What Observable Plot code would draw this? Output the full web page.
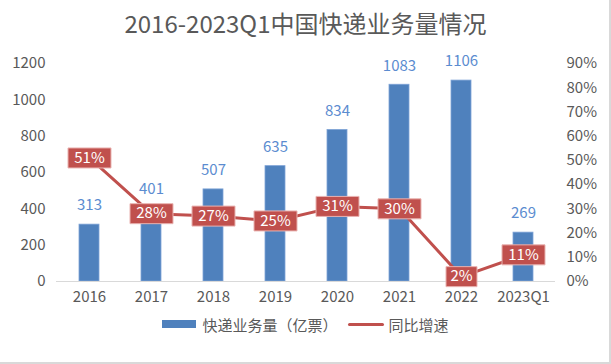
<!DOCTYPE html>
<html><head><meta charset="utf-8">
<script src="https://cdn.jsdelivr.net/npm/d3@7"></script>
<script src="https://cdn.jsdelivr.net/npm/@observablehq/plot@0.6"></script>
<style>
body{margin:0;background:#fff;}
#wrap{position:relative;width:611px;height:364px;box-sizing:border-box;border-right:2px solid #d9d9d9;border-bottom:2px solid #d9d9d9;font-family:"Noto Sans CJK SC","Open Sans",sans-serif;overflow:hidden;background:#fff}
#title{position:absolute;left:0;top:0;width:611px;height:45px;line-height:45px;text-align:center;font-size:24px;color:#595959}
#chart{position:absolute;left:0;top:45px;width:611px;height:270px}
#chart svg{position:absolute;left:0;top:0;background:transparent}
#legend{position:absolute;top:314px;left:0;width:611px;height:20px;display:flex;justify-content:center;align-items:center;font-size:15px;color:#595959}
.sw{display:inline-block;width:34px;height:8px;background:#4f81bd;margin-right:6px}
.ln{display:inline-block;width:36px;height:3px;background:#c0504d;margin:0 5px 0 10px;border-radius:2px}
</style></head>
<body>
<div id="wrap">
  <div id="title">2016-2023Q1中国快递业务量情况</div>
  <div id="chart"></div>
  <div id="legend"><span class="sw"></span><span>快递业务量（亿票）</span><span class="ln"></span><span>同比增速</span></div>
</div>
<script>
const cats = ["2016","2017","2018","2019","2020","2021","2022","2023Q1"];
const volume = [313,401,507,635,834,1083,1106,269];
const growth = [0.51,0.28,0.27,0.25,0.31,0.30,0.02,0.11];
const leftTicks = [0,200,400,600,800,1000,1200];
const rightTicks = [0,0.1,0.2,0.3,0.4,0.5,0.6,0.7,0.8,0.9];

const data = cats.map((c,i)=>({cat:c, v:volume[i], g:growth[i]}));
const pct = d3.format(".0%");

const common = {
  width:611, height:270, marginTop:18, marginBottom:34, marginLeft:56, marginRight:56,
  style:{fontSize:"15px", color:"#595959", fontFamily:'"Noto Sans CJK SC","Open Sans",sans-serif', background:"transparent", overflow:"visible"}
};
const xOpts = {type:"band", domain:cats, paddingInner:0.68, paddingOuter:0.34};

const barPlot = Plot.plot({
  ...common,
  x:{...xOpts, axis:null},
  y:{domain:[0,1200], axis:null},
  marks:[
    Plot.barY(data,{x:"cat", y:"v", fill:"#4f81bd", stroke:"#7ea3d6", strokeWidth:0.8}),
    Plot.ruleY([0],{stroke:"#d9d9d9", strokeWidth:1}),
    Plot.text(data,{x:"cat", y:"v", text:d=>String(d.v), dy:-19, fill:"#5b8cd0", fontSize:15}),
    Plot.axisY({ticks:leftTicks, tickFormat:d=>String(d), tickSize:0, tickPadding:11, label:null, fill:"#595959"}),
    Plot.axisX({tickSize:0, tickPadding:10, label:null, fill:"#595959"})
  ]
});

function box(w){ return {draw(ctx){ ctx.rect(-w/2,-10,w,20); }}; }

const linePlot = Plot.plot({
  ...common,
  x:{...xOpts, axis:null},
  y:{domain:[0,0.9], axis:null},
  marks:[
    Plot.line(data,{x:"cat", y:"g", stroke:"#c0504d", strokeWidth:3}),
    Plot.dot(data.filter(d=>d.g>=0.1),{x:"cat", y:"g", symbol:box(43), r:10, fill:"#c0504d", stroke:"#e9b3b1", strokeWidth:1}),
    Plot.dot(data.filter(d=>d.g<0.1),{x:"cat", y:"g", symbol:box(31), r:10, fill:"#c0504d", stroke:"#e9b3b1", strokeWidth:1}),
    Plot.text(data,{x:"cat", y:"g", text:d=>pct(d.g), fill:"white", fontSize:15}),
    Plot.axisY({anchor:"right", ticks:rightTicks, tickFormat:pct, tickSize:0, tickPadding:11, label:null, fill:"#595959"})
  ]
});

document.getElementById("chart").append(barPlot, linePlot);
</script>
</body></html>
